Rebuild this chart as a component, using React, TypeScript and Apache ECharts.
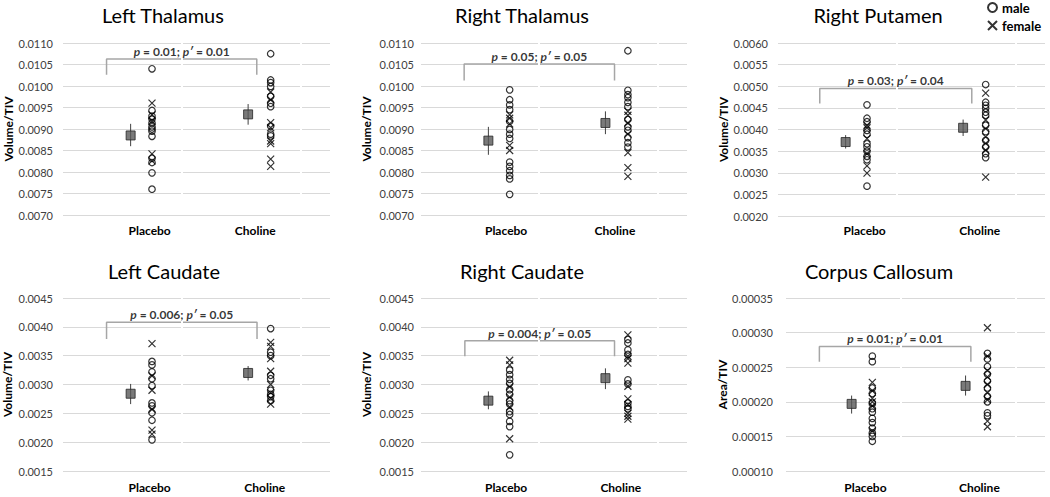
import React, { useEffect, useRef } from "react";
import * as echarts from "echarts";

// ---------- data ----------
const TITLES = ["Left Thalamus", "Right Thalamus", "Right Putamen", "Left Caudate", "Right Caudate", "Corpus Callosum"];
const Y_NAMES = ["Volume/TIV", "Volume/TIV", "Volume/TIV", "Volume/TIV", "Volume/TIV", "Area/TIV"];
const Y_MIN = [0.007, 0.007, 0.002, 0.0015, 0.0015, 0.0001];
const Y_MAX = [0.011, 0.011, 0.006, 0.0045, 0.0045, 0.00035];
const Y_STEP = [0.0005, 0.0005, 0.0005, 0.0005, 0.0005, 0.00005];
const Y_DECIMALS = [4, 4, 4, 4, 4, 5];
const CATEGORIES = ["Placebo", "Choline"];
const LEGEND_NAMES = ["male", "female"];

// x positions on the (hidden) value x-axis: group means and individual points
const MEAN_X = [0.57, 1.56];
const DATA_X = [0.75, 1.75];
const CAT_LABEL_X = [
  [0.73, 1.62],
  [0.72, 1.64],
  [0.73, 1.7],
  [0.73, 1.7],
  [0.72, 1.69],
  [0.69, 1.68],
];

// p values: [p, p']
const P_VALUES = [
  ["0.01", "0.01"],
  ["0.05", "0.05"],
  ["0.03", "0.04"],
  ["0.006", "0.05"],
  ["0.004", "0.05"],
  ["0.01", "0.01"],
];
// bracket: [xLeft, xRight], top value, leg-end value
const BRACKET_X = [
  [0.367, 1.633],
  [0.365, 1.637],
  [0.352, 1.633],
  [0.367, 1.635],
  [0.371, 1.637],
  [0.29, 1.606],
];
const BRACKET_TOP = [0.01063, 0.01051, 0.00495, 0.00408, 0.00376, 0.00028];
const BRACKET_LEG = [0.01026, 0.01013, 0.0046, 0.00379, 0.00349, 0.000258];

// group means and error bars [placebo, choline]
const MEANS = [
  [0.00885, 0.00934],
  [0.00873, 0.00914],
  [0.00371, 0.00404],
  [0.00284, 0.0032],
  [0.00272, 0.00311],
  [0.000197, 0.000223],
];
const ERR_LOW = [
  [0.0086, 0.0091],
  [0.0084, 0.00888],
  [0.00356, 0.00385],
  [0.00266, 0.00307],
  [0.00257, 0.00292],
  [0.000183, 0.000209],
];
const ERR_HIGH = [
  [0.00912, 0.00958],
  [0.00905, 0.00941],
  [0.00387, 0.00423],
  [0.00301, 0.00332],
  [0.00288, 0.00328],
  [0.000209, 0.000238],
];

// individual subjects
const leftThalamusPlaceboMale = [0.0104, 0.00943, 0.0093, 0.00923, 0.00914, 0.00905, 0.009, 0.00895, 0.00883, 0.00832, 0.00822, 0.00798, 0.0076];
const leftThalamusPlaceboFemale = [0.0096, 0.00933, 0.00918, 0.00842, 0.00826];
const leftThalamusCholineMale = [0.01075, 0.01014, 0.01008, 0.00999, 0.00976, 0.0096, 0.00952, 0.00907, 0.00888, 0.00884];
const leftThalamusCholineFemale = [0.00986, 0.00968, 0.00915, 0.00903, 0.00872, 0.00866, 0.0083, 0.00813];

const rightThalamusPlaceboMale = [0.00991, 0.00968, 0.00956, 0.00945, 0.00918, 0.00899, 0.00888, 0.00878, 0.00823, 0.00813, 0.00803, 0.00792, 0.00784, 0.00748];
const rightThalamusPlaceboFemale = [0.00933, 0.00925, 0.00912, 0.00862, 0.0085];
const rightThalamusCholineMale = [0.01082, 0.0099, 0.0098, 0.00973, 0.00962, 0.00952, 0.00922, 0.00905, 0.00897, 0.0088, 0.00868, 0.00858];
const rightThalamusCholineFemale = [0.00941, 0.00932, 0.00914, 0.00888, 0.00845, 0.0081, 0.0079];

const rightPutamenPlaceboMale = [0.00457, 0.00426, 0.00418, 0.00398, 0.00389, 0.00367, 0.0036, 0.0035, 0.00338, 0.0033, 0.00269];
const rightPutamenPlaceboFemale = [0.0041, 0.00404, 0.00379, 0.00344, 0.00316, 0.00299];
const rightPutamenCholineMale = [0.00504, 0.00463, 0.00456, 0.00449, 0.0044, 0.00433, 0.0041, 0.00395, 0.00375, 0.0036, 0.00344, 0.00335];
const rightPutamenCholineFemale = [0.00484, 0.00422, 0.00402, 0.00383, 0.00368, 0.00352, 0.0029];

const leftCaudatePlaceboMale = [0.0034, 0.00334, 0.00322, 0.0031, 0.00298, 0.00268, 0.00263, 0.00251, 0.00238, 0.00204];
const leftCaudatePlaceboFemale = [0.00371, 0.00315, 0.0029, 0.00257, 0.00221, 0.00214];
const leftCaudateCholineMale = [0.00397, 0.00356, 0.0035, 0.00316, 0.0031, 0.0029, 0.00283, 0.00279, 0.00272];
const leftCaudateCholineFemale = [0.00373, 0.00366, 0.00345, 0.00323, 0.003, 0.00286, 0.00276, 0.00266];

const rightCaudatePlaceboMale = [0.00325, 0.00317, 0.00309, 0.00302, 0.00291, 0.00283, 0.00272, 0.00266, 0.00253, 0.00248, 0.00236, 0.00227, 0.00178];
const rightCaudatePlaceboFemale = [0.00342, 0.00334, 0.00296, 0.00278, 0.00261, 0.00206];
const rightCaudateCholineMale = [0.00378, 0.00372, 0.0036, 0.00352, 0.00308, 0.00301, 0.00268, 0.00262, 0.00258];
const rightCaudateCholineFemale = [0.00386, 0.00349, 0.00345, 0.00337, 0.00297, 0.00275, 0.00265, 0.0025, 0.00245, 0.0024];

const corpusCallosumPlaceboMale = [0.000266, 0.000258, 0.00022, 0.000212, 0.000198, 0.00019, 0.000185, 0.000176, 0.00017, 0.000162, 0.000155, 0.00015, 0.000143];
const corpusCallosumPlaceboFemale = [0.000228, 0.000216, 0.000205, 0.0002, 0.000194, 0.000158];
const corpusCallosumCholineMale = [0.00027, 0.000262, 0.000251, 0.00024, 0.00023, 0.00022, 0.000208, 0.0002, 0.000184, 0.00018];
const corpusCallosumCholineFemale = [0.000307, 0.000266, 0.000245, 0.000236, 0.000225, 0.000213, 0.000203, 0.000172, 0.000164];

const MALE = [
  [leftThalamusPlaceboMale, leftThalamusCholineMale],
  [rightThalamusPlaceboMale, rightThalamusCholineMale],
  [rightPutamenPlaceboMale, rightPutamenCholineMale],
  [leftCaudatePlaceboMale, leftCaudateCholineMale],
  [rightCaudatePlaceboMale, rightCaudateCholineMale],
  [corpusCallosumPlaceboMale, corpusCallosumCholineMale],
];
const FEMALE = [
  [leftThalamusPlaceboFemale, leftThalamusCholineFemale],
  [rightThalamusPlaceboFemale, rightThalamusCholineFemale],
  [rightPutamenPlaceboFemale, rightPutamenCholineFemale],
  [leftCaudatePlaceboFemale, leftCaudateCholineFemale],
  [rightCaudatePlaceboFemale, rightCaudateCholineFemale],
  [corpusCallosumPlaceboFemale, corpusCallosumCholineFemale],
];

// ---------- layout & style ----------
const FONT = "Lato, 'Open Sans', sans-serif";
const LAYOUT = [
  { left: 63, top: 43, width: 267, height: 172, titleX: 163, titleY: 15, labelMargin: 10, nameGap: 49, catMargin: 9 },
  { left: 421, top: 43, width: 266, height: 172, titleX: 522, titleY: 15, labelMargin: 7, nameGap: 49, catMargin: 9 },
  { left: 778, top: 43, width: 267, height: 173, titleX: 878, titleY: 15, labelMargin: 10, nameGap: 49, catMargin: 8 },
  { left: 63, top: 298, width: 267, height: 173, titleX: 164, titleY: 271, labelMargin: 10, nameGap: 50, catMargin: 10 },
  { left: 421, top: 298, width: 266, height: 173, titleX: 522, titleY: 271, labelMargin: 7, nameGap: 49, catMargin: 10 },
  { left: 786, top: 298, width: 259, height: 173, titleX: 879, titleY: 271, labelMargin: 13, nameGap: 55, catMargin: 10 },
];
const X_PATH = "path://M0,0L10,10M10,0L0,10";

function buildOption() {
  const grid: any[] = [];
  const xAxis: any[] = [];
  const yAxis: any[] = [];
  const graphic: any[] = [];
  const series: any[] = [];

  TITLES.forEach((t, i) => {
    const L = LAYOUT[i];
    grid.push({ left: L.left, top: L.top, width: L.width, height: L.height });
    graphic.push({
      type: "text",
      x: L.titleX,
      y: L.titleY,
      silent: true,
      style: {
        text: t,
        fill: "#000",
        font: `normal 20px ${FONT}`,
        textAlign: "center",
        textVerticalAlign: "middle",
      },
    });
    const labelX = CAT_LABEL_X[i];
    xAxis.push({
      type: "value",
      gridIndex: i,
      min: 0,
      max: 2.25,
      axisLine: { show: false },
      axisTick: { show: false },
      splitLine: { show: false },
      axisLabel: {
        customValues: labelX,
        margin: L.catMargin,
        fontFamily: FONT,
        fontWeight: "bold",
        fontSize: 12,
        color: "#000",
        formatter: (v: number) => {
          const k = labelX.findIndex((x) => Math.abs(x - v) < 1e-6);
          return k >= 0 ? CATEGORIES[k] : "";
        },
      },
    });
    const dec = Y_DECIMALS[i];
    yAxis.push({
      type: "value",
      gridIndex: i,
      min: Y_MIN[i],
      max: Y_MAX[i],
      interval: Y_STEP[i],
      name: Y_NAMES[i],
      nameLocation: "middle",
      nameGap: L.nameGap,
      nameTextStyle: { fontFamily: FONT, fontWeight: "bold", fontSize: 12, color: "#000" },
      axisLine: { show: false },
      axisTick: { show: false },
      splitLine: { show: true, lineStyle: { color: "#d9d9d9", width: 1 } },
      axisLabel: {
        margin: L.labelMargin,
        fontFamily: FONT,
        fontSize: 11,
        color: "#404040",
        formatter: (v: number) => v.toFixed(dec),
      },
    });

    // category separators (small breaks in gridlines)
    series.push({
      type: "line",
      xAxisIndex: i,
      yAxisIndex: i,
      data: [],
      silent: true,
      z: 1,
      markLine: {
        silent: true,
        symbol: ["none", "none"],
        label: { show: false },
        lineStyle: { color: "#ffffff", width: 2, type: "solid" },
        data: [{ xAxis: 1 }, { xAxis: 2 }],
      },
    });

    // error bars
    [0, 1].forEach((g) => {
      series.push({
        type: "line",
        xAxisIndex: i,
        yAxisIndex: i,
        data: [
          [MEAN_X[g], ERR_LOW[i][g]],
          [MEAN_X[g], ERR_HIGH[i][g]],
        ],
        symbol: "none",
        silent: true,
        lineStyle: { color: "#404040", width: 1 },
        z: 3,
      });
    });

    // means
    series.push({
      type: "scatter",
      xAxisIndex: i,
      yAxisIndex: i,
      data: [0, 1].map((g) => [MEAN_X[g], MEANS[i][g]]),
      symbol: "rect",
      symbolSize: 9,
      itemStyle: { color: "#595959", borderColor: "#262626", borderWidth: 1 },
      z: 4,
    });

    // individuals
    series.push({
      name: LEGEND_NAMES[0],
      type: "scatter",
      xAxisIndex: i,
      yAxisIndex: i,
      data: [0, 1].flatMap((g) => MALE[i][g].map((v) => [DATA_X[g], v])),
      symbol: "circle",
      symbolSize: 6.5,
      itemStyle: { color: "rgba(255,255,255,0)", borderColor: "#000", borderWidth: 1.2 },
      z: 5,
    });
    series.push({
      name: LEGEND_NAMES[1],
      type: "scatter",
      xAxisIndex: i,
      yAxisIndex: i,
      data: [0, 1].flatMap((g) => FEMALE[i][g].map((v) => [DATA_X[g], v])),
      symbol: X_PATH,
      symbolSize: 7,
      itemStyle: { color: "rgba(255,255,255,0)", borderColor: "#000", borderWidth: 1.2 },
      z: 5,
    });

    // significance bracket
    const [bx0, bx1] = BRACKET_X[i];
    series.push({
      type: "line",
      xAxisIndex: i,
      yAxisIndex: i,
      data: [
        [bx0, BRACKET_LEG[i]],
        [bx0, BRACKET_TOP[i]],
        [bx1, BRACKET_TOP[i]],
        [bx1, BRACKET_LEG[i]],
      ],
      symbol: "none",
      silent: true,
      lineStyle: { color: "#a6a6a6", width: 1.5 },
      z: 3,
    });
    const [p, pp] = P_VALUES[i];
    series.push({
      type: "scatter",
      xAxisIndex: i,
      yAxisIndex: i,
      data: [[(bx0 + bx1) / 2, BRACKET_TOP[i]]],
      symbolSize: 1,
      itemStyle: { color: "rgba(0,0,0,0)" },
      silent: true,
      z: 6,
      label: {
        show: true,
        position: "top",
        distance: 1,
        fontFamily: FONT,
        fontWeight: "bold",
        fontSize: 12,
        color: "#000",
        formatter: `{i|p} = ${p}; {i|p′} = ${pp}`,
        rich: {
          i: { fontFamily: FONT, fontWeight: "bold", fontStyle: "italic", fontSize: 12, color: "#000" },
        },
      },
    });
  });

  return {
    animation: false,
    backgroundColor: "#fff",
    graphic,
    grid,
    xAxis,
    yAxis,
    legend: {
      data: [
        { name: LEGEND_NAMES[0], icon: "circle" },
        { name: LEGEND_NAMES[1], icon: X_PATH },
      ],
      orient: "vertical",
      left: 987,
      top: 1,
      padding: 0,
      itemWidth: 9,
      itemHeight: 9,
      itemGap: 5,
      selectedMode: false,
      textStyle: { fontFamily: FONT, fontWeight: "bold", fontSize: 13, color: "#000" },
    },
    series,
  };
}

export default function App() {
  const ref = useRef<HTMLDivElement>(null);
  useEffect(() => {
    if (!ref.current) return;
    const chart = echarts.init(ref.current, undefined, { renderer: "svg" });
    chart.setOption(buildOption() as any);
    return () => chart.dispose();
  }, []);
  return (
    <div
      ref={ref}
      style={{ position: "fixed", left: 0, top: 0, width: 1050, height: 497, background: "#fff" }}
    />
  );
}
